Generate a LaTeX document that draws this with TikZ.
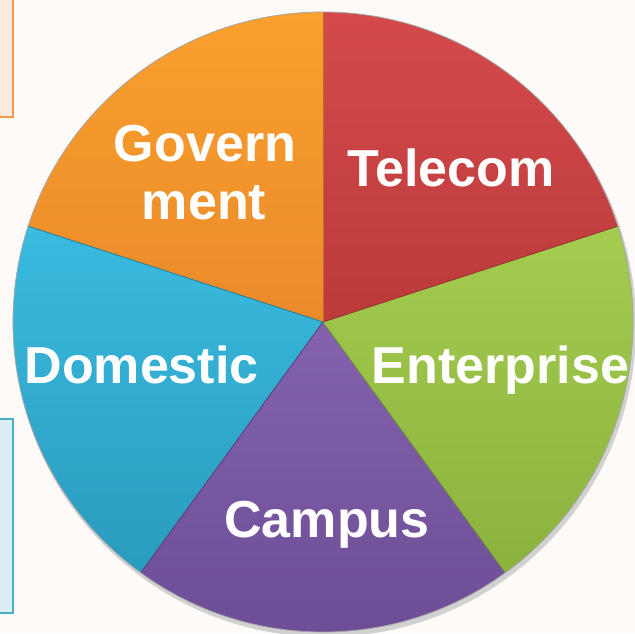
\documentclass[tikz,border=0pt]{standalone}
\usepackage{fontspec}
\setmainfont{Liberation Sans}
\definecolor{bgc}{HTML}{FDFAF8}
\definecolor{cred}{HTML}{D44A4C}
\definecolor{cred2}{HTML}{BC3A3A}
\definecolor{corange}{HTML}{F9A02E}
\definecolor{corange2}{HTML}{EB8A2A}
\definecolor{cblue}{HTML}{3ABBE0}
\definecolor{cblue2}{HTML}{2A9BBE}
\definecolor{cgreen}{HTML}{A3CC50}
\definecolor{cgreen2}{HTML}{8CB23E}
\definecolor{cpurple}{HTML}{8462AE}
\definecolor{cpurple2}{HTML}{6C4C94}
\definecolor{boxo}{HTML}{FCEADF}
\definecolor{boxob}{HTML}{F79646}
\definecolor{boxb}{HTML}{DCEEF4}
\definecolor{boxbb}{HTML}{4BACC6}
\tikzset{
  lbl/.style={text=white, font=\bfseries\fontsize{52}{58}\selectfont, anchor=base, inner sep=0pt},
  sidebox/.style={line width=1.5pt},
}
\begin{document}
\begin{tikzpicture}[x=1pt,y=1pt]
\useasboundingbox (0,0) rectangle (635,633);
\fill[bgc] (0,0) rectangle (635,633);
% side boxes
\draw[sidebox, draw=boxob, fill=boxo] (-5,516) rectangle (13,640);
\draw[sidebox, draw=boxbb, fill=boxb] (-5,20) rectangle (13,214);
\coordinate (C) at (323,311);
% shadow
\fill[black!18] (325,307) circle (311);
% slices
\shade[top color=cred, bottom color=cred2] (C) -- ++(18:310) arc[start angle=18, end angle=90, radius=310] -- cycle;
\shade[top color=corange, bottom color=corange2] (C) -- ++(90:310) arc[start angle=90, end angle=162, radius=310] -- cycle;
\shade[top color=cblue, bottom color=cblue2] (C) -- ++(162:310) arc[start angle=162, end angle=234, radius=310] -- cycle;
\shade[top color=cpurple, bottom color=cpurple2] (C) -- ++(234:310) arc[start angle=234, end angle=306, radius=310] -- cycle;
\shade[top color=cgreen, bottom color=cgreen2] (C) -- ++(306:310) arc[start angle=306, end angle=378, radius=310] -- cycle;
% slice edges
\foreach \a/\c in {18/cred2,90/corange2,162/cblue2,234/cpurple2,306/cgreen2}{
  \draw[\c!80!black, line width=0.8pt] (C) -- ++(\a:310);
}
\draw[black!35, line width=0.8pt] (C) circle (310);
% labels
\node[lbl] (gov1) at (205,471) {Govern};
\node[lbl] (gov2) at (204,413) {ment};
\node[lbl] (tel) at (451,446) {Telecom};
\node[lbl] (dom) at (141.5,250) {Domestic};
\node[lbl] (ent) at (500.5,250) {Enterprise};
\node[lbl] (cam) at (327,96) {Campus};
\end{tikzpicture}
\end{document}
